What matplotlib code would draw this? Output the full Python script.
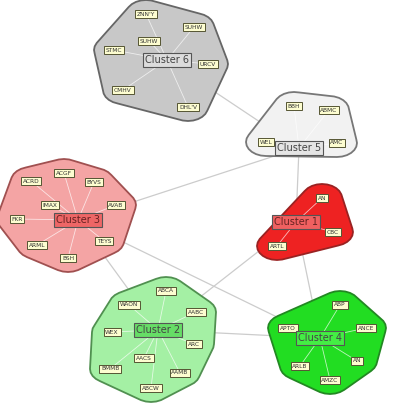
import numpy as np
import matplotlib
matplotlib.use("Agg")
import matplotlib.pyplot as plt
from matplotlib.patches import Polygon

cluster_names = ["Cluster 6", "Cluster 5", "Cluster 3", "Cluster 1", "Cluster 2", "Cluster 4"]
cluster_centers = [(167, 60), (299, 148), (78, 220), (296, 222), (158, 330), (320, 338)]
cluster_fill = ["#c8c8c8", "#f2f2f2", "#f4a4a4", "#ee2222", "#a4f0a4", "#22dd22"]
cluster_edge = ["#666666", "#777777", "#a05050", "#992222", "#509050", "#228822"]
label_fill = ["#dcdcdc", "#e4e4e4", "#ee6666", "#f06060", "#66dd66", "#44ee44"]

members = [
    [("ZNN'Y", 146, 14), ("SUHW", 194, 27), ("SUHW", 149, 41), ("STMC", 114, 50),
     ("URCV", 208, 64), ("CMHV", 123, 90), ("DHL'V", 188, 107)],
    [("BBH", 294, 106), ("ABMC", 329, 110), ("WEL", 266, 142), ("AMC", 337, 143)],
    [("ACRD", 31, 181), ("ACGF", 64, 173), ("BYVS", 94, 182), ("IMAX", 50, 205),
     ("AVAB", 116, 205), ("FKR", 17, 219), ("TEYS", 104, 241), ("ARML", 37, 245),
     ("BSH", 68, 258)],
    [("AN", 322, 198), ("CBC", 333, 232), ("ARTL", 277, 246)],
    [("ABCA", 166, 291), ("WAON", 129, 305), ("AABC", 196, 312), ("WEX", 112, 332),
     ("ARC", 194, 344), ("AACS", 144, 358), ("BMMB", 110, 369), ("AAMB", 180, 373),
     ("ABCW", 151, 388)],
    [("ABP", 340, 305), ("APTO", 288, 328), ("ANCE", 366, 328), ("ARLB", 300, 366),
     ("AN2", 357, 361), ("AMZC", 330, 380)],
]
links = [(0, 1), (1, 2), (1, 3), (2, 4), (2, 5), (3, 4), (3, 5), (4, 5)]


def hull(pts):
    pts = sorted(set(pts))
    def cross(o, a, b):
        return (a[0]-o[0])*(b[1]-o[1]) - (a[1]-o[1])*(b[0]-o[0])
    lower, upper = [], []
    for p in pts:
        while len(lower) >= 2 and cross(lower[-2], lower[-1], p) <= 0:
            lower.pop()
        lower.append(p)
    for p in reversed(pts):
        while len(upper) >= 2 and cross(upper[-2], upper[-1], p) <= 0:
            upper.pop()
        upper.append(p)
    return lower[:-1] + upper[:-1]


fig = plt.figure(figsize=(4.04, 4.12), dpi=100)
ax = fig.add_axes([0, 0, 1, 1])
ax.set_xlim(0, 404)
ax.set_ylim(412, 0)
ax.axis("off")

for a, b in links:
    (x1, y1), (x2, y2) = cluster_centers[a], cluster_centers[b]
    ax.plot([x1, x2], [y1, y2], color="#cccccc", lw=0.9, zorder=1)

ang = np.linspace(0, 2*np.pi, 24, endpoint=False)
for i, mem in enumerate(members):
    pts = []
    for _, x, y in mem:
        for t in ang:
            pts.append((round(x + 20*np.cos(t), 2), round(y + 14*np.sin(t), 2)))
    h = hull(pts)
    ax.add_patch(Polygon(h, closed=True, facecolor=cluster_fill[i], edgecolor=cluster_edge[i],
                         lw=1.3, joinstyle="round", zorder=2))
    cx, cy = cluster_centers[i]
    for name, x, y in mem:
        ax.plot([cx, x], [cy, y], color="white", lw=0.6, alpha=0.7, zorder=3)
    for name, x, y in mem:
        ax.text(x, y, name.replace("AN2", "AN"), fontsize=4.2, ha="center", va="center", zorder=4,
                color="#333333",
                bbox=dict(boxstyle="square,pad=0.3", fc="#fdfdd0", ec="#555533", lw=0.7))
    ax.text(cx, cy, cluster_names[i], fontsize=7, ha="center", va="center", zorder=5,
            color="#444444" if i in (0, 1, 4, 5) else "#662222",
            bbox=dict(boxstyle="square,pad=0.2", fc=label_fill[i], ec="#555555", lw=0.8))

fig.savefig("out.png", dpi=100)
